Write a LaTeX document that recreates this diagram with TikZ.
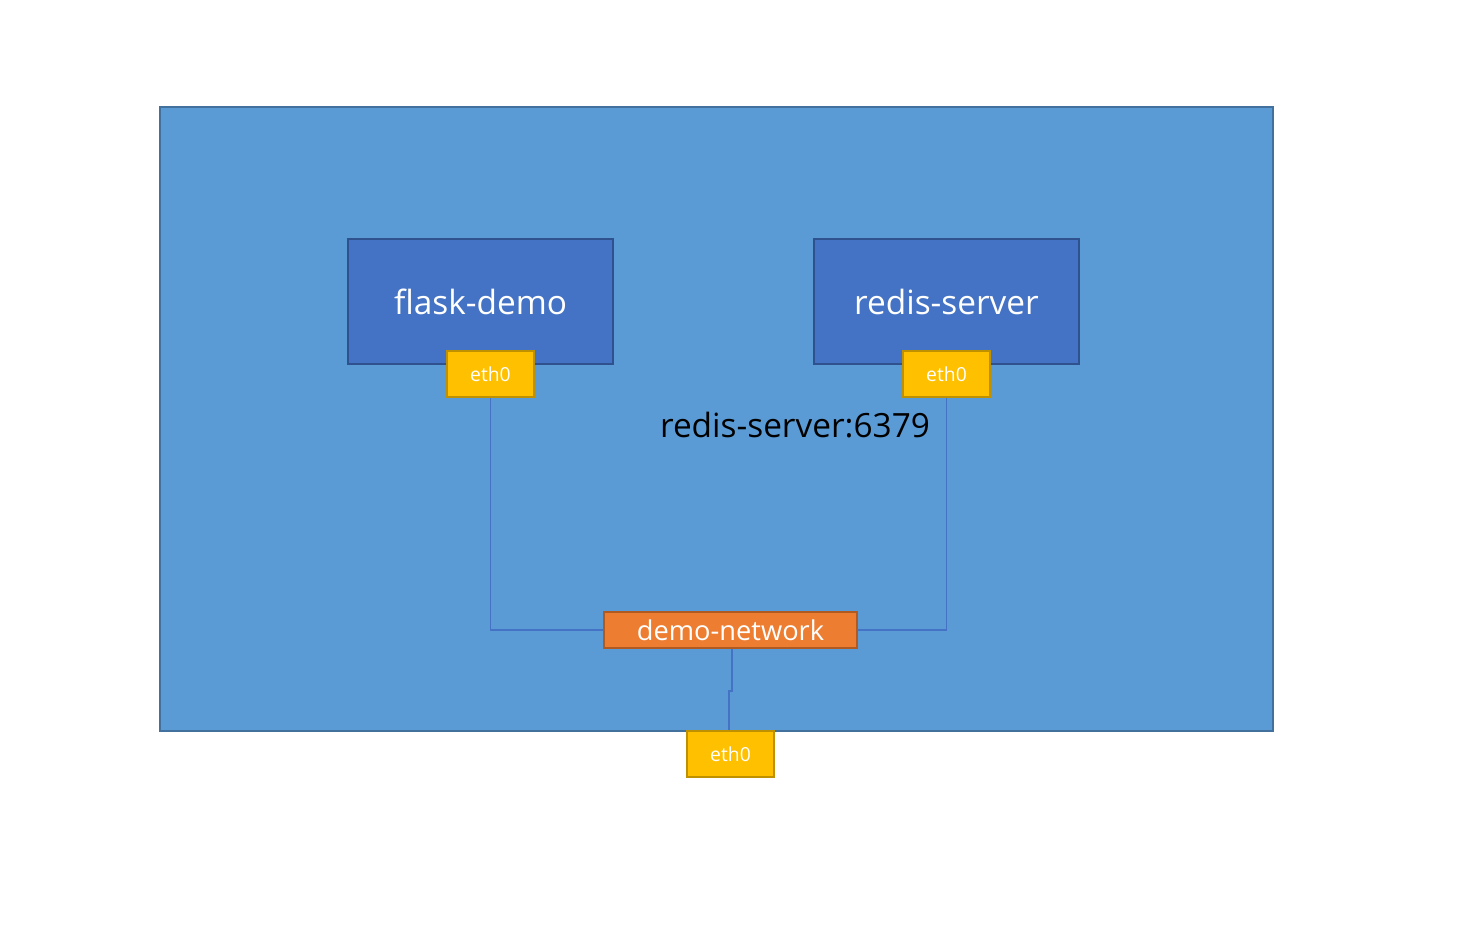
\documentclass[tikz,border=0pt]{standalone}
\usepackage{fontspec}
\setmainfont{Open Sans}
\usetikzlibrary{positioning}

\definecolor{hostblue}{HTML}{5B9BD5}
\definecolor{hostline}{HTML}{41719C}
\definecolor{boxblue}{HTML}{4472C4}
\definecolor{boxline}{HTML}{2F528F}
\definecolor{ifgold}{HTML}{FFC000}
\definecolor{ifline}{HTML}{BF9000}
\definecolor{netorange}{HTML}{ED7D31}
\definecolor{netline}{HTML}{AE5A21}

\begin{document}
\begin{tikzpicture}[
  host/.style={draw=hostline, fill=hostblue, line width=1.6pt, minimum width=22.26cm, minimum height=12.48cm},
  container/.style={draw=boxline, fill=boxblue, line width=1.6pt, minimum width=5.3cm, minimum height=2.5cm, text=white, font=\fontsize{19}{23}\selectfont},
  iface/.style={draw=ifline, fill=ifgold, line width=1.6pt, minimum width=1.74cm, minimum height=0.92cm, text=white, font=\fontsize{11}{13}\selectfont},
  bridge/.style={draw=netline, fill=netorange, line width=1.6pt, minimum width=5.06cm, minimum height=0.72cm, inner sep=0pt, text=white, font=\fontsize{15.5}{18}\selectfont},
  wire/.style={draw=boxblue, line width=1.1pt}
]
\useasboundingbox (0,0) rectangle (29.3,18.92);

\node [host] (host) at (14.33,10.54) {};

\node [container] (flask) at (9.61,12.89) {flask-demo};
\node [container] (redis) at (18.93,12.89) {redis-server};

\node [iface] (flasketh) at (9.81,11.44) {eth0};
\node [iface] (rediseth) at (18.93,11.44) {eth0};

\node [font=\fontsize{19}{23}\selectfont] (addr) at (15.9,10.42) {redis-server:6379};

\node [bridge] (net) at (14.61,6.32) {demo-network};
\node [iface] (hosteth) at (14.61,3.84) {eth0};

\draw [wire] (flasketh.south) |- (net.west);
\draw [wire] (rediseth.south) |- (net.east);
\draw [wire] ([xshift=0.03cm]net.south) -- ++(0,-0.84) -| ([xshift=-0.03cm]hosteth.north);

\end{tikzpicture}
\end{document}
